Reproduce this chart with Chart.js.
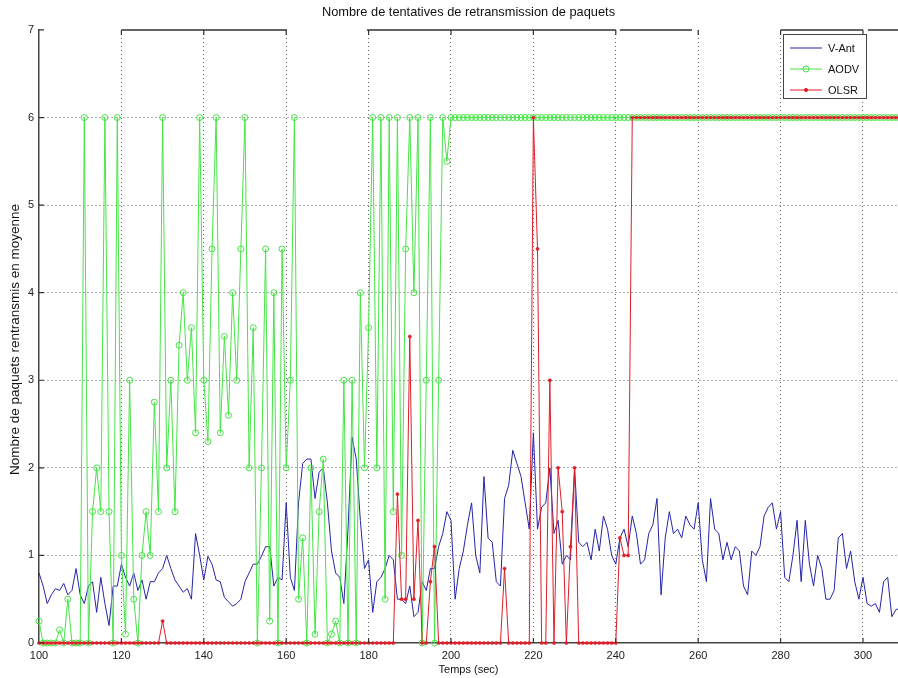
<!DOCTYPE html>
<html>
<head>
<meta charset="utf-8">
<style>
  html, body { margin: 0; padding: 0; background: #fff; }
  canvas { display: block; }
</style>
<script src="https://cdn.jsdelivr.net/npm/chart.js@4/dist/chart.umd.min.js"></script>
</head>
<body>
<canvas id="myChart" width="898" height="678" style="width:898px;height:678px"></canvas>
<script>
const titre = 'Nombre de tentatives de retransmission de paquets';
const titreX = 'Temps (sec)';
const titreY = 'Nombre de paquets rentransmis en moyenne';
const noms = ['V-Ant', 'AODV', 'OLSR'];

// temps de simulation (s)
const temps = [
  100,101,102,103,104,105,106,107,108,109,
  110,111,112,113,114,115,116,117,118,119,
  120,121,122,123,124,125,126,127,128,129,
  130,131,132,133,134,135,136,137,138,139,
  140,141,142,143,144,145,146,147,148,149,
  150,151,152,153,154,155,156,157,158,159,
  160,161,162,163,164,165,166,167,168,169,
  170,171,172,173,174,175,176,177,178,179,
  180,181,182,183,184,185,186,187,188,189,
  190,191,192,193,194,195,196,197,198,199,
  200,201,202,203,204,205,206,207,208,209,
  210,211,212,213,214,215,216,217,218,219,
  220,221,222,223,224,225,226,227,228,229,
  230,231,232,233,234,235,236,237,238,239,
  240,241,242,243,244,245,246,247,248,249,
  250,251,252,253,254,255,256,257,258,259,
  260,261,262,263,264,265,266,267,268,269,
  270,271,272,273,274,275,276,277,278,279,
  280,281,282,283,284,285,286,287,288,289,
  290,291,292,293,294,295,296,297,298,299,
  300,301,302,303,304,305,306,307,308,309
];

const vAnt = [
  0.8,0.65,0.45,0.55,0.62,0.6,0.68,0.55,0.6,0.85,
  0.55,0.45,0.65,0.7,0.35,0.75,0.45,0.2,0.65,0.65,
  0.9,0.75,0.65,0.8,0.6,0.72,0.5,0.7,0.7,0.8,
  0.85,1.0,0.85,0.72,0.65,0.58,0.62,0.5,1.25,1.0,
  0.72,0.99,0.9,0.72,0.7,0.52,0.47,0.42,0.45,0.5,
  0.7,0.8,0.9,0.9,0.99,1.1,1.1,0.65,0.75,0.72,
  1.6,0.75,0.6,1.6,2.05,2.1,2.1,1.65,1.95,2.0,
  1.6,1.05,0.8,0.75,0.45,1.3,2.35,2.1,1.4,0.85,
  0.95,0.35,0.7,0.75,0.85,1.0,0.95,0.5,0.5,0.45,
  0.65,0.3,0.35,0.7,0.6,0.85,0.85,1.1,1.25,1.5,
  1.4,0.5,0.85,1.05,1.35,1.6,1.0,0.8,1.9,1.2,
  1.15,0.7,0.65,1.65,1.8,2.2,2.05,1.9,1.6,1.3,
  2.4,1.3,1.55,1.6,2.0,1.25,1.4,0.9,1.0,0.95,
  2.0,1.15,1.1,1.15,0.95,1.3,1.05,1.45,1.3,1.0,
  0.9,1.2,1.3,1.1,1.45,1.25,0.9,0.95,1.25,1.35,
  1.65,0.55,1.2,1.5,1.25,1.3,1.2,1.45,1.35,1.3,
  1.6,0.95,0.7,1.65,1.3,1.25,0.95,1.15,0.95,1.1,
  1.05,0.65,0.55,1.05,1.0,1.1,1.45,1.55,1.6,1.3,
  1.5,0.75,0.7,1.0,1.4,0.7,1.4,0.9,0.65,1.0,
  0.85,0.5,0.5,0.6,1.2,1.25,0.85,1.05,0.7,0.5,
  0.75,0.45,0.42,0.45,0.35,0.7,0.75,0.3,0.38,0.4
];

const aodv = [
  0.25,0,0,0,0,0.15,0,0.5,0,0,
  0,6,0,1.5,2,1.5,6,1.5,0,6,
  1,0.1,3,0.5,0,1,1.5,1,2.75,1.5,
  6,2,3,1.5,3.4,4,3,3.6,2.4,6,
  3,2.3,4.5,6,2.4,3.5,2.6,4,3,4.5,
  6,2,3.6,0,2,4.5,0.25,4,0,4.5,
  2,3,6,0.5,1.2,0,2,0.1,1.5,2.1,
  0,0.1,0.25,0,3,0,3,0,4,2,
  3.6,6,2,6,0.5,6,1.5,6,1,4.5,
  6,4,6,0,3,6,0,3,6,5.5,
  6,6,6,6,6,6,6,6,6,6,
  6,6,6,6,6,6,6,6,6,6,
  6,6,6,6,6,6,6,6,6,6,
  6,6,6,6,6,6,6,6,6,6,
  6,6,6,6,6,6,6,6,6,6,
  6,6,6,6,6,6,6,6,6,6,
  6,6,6,6,6,6,6,6,6,6,
  6,6,6,6,6,6,6,6,6,6,
  6,6,6,6,6,6,6,6,6,6,
  6,6,6,6,6,6,6,6,6,6,
  6,6,6,6,6,6,6,6,6,6
];

const olsr = [
  0,0,0,0,0,0,0,0,0,0,
  0,0,0,0,0,0,0,0,0,0,
  0,0,0,0,0,0,0,0,0,0,
  0.25,0,0,0,0,0,0,0,0,0,
  0,0,0,0,0,0,0,0,0,0,
  0,0,0,0,0,0,0,0,0,0,
  0,0,0,0,0,0,0,0,0,0,
  0,0,0,0,0,0,0,0,0,0,
  0,0,0,0,0,0,0,1.7,0.5,0.5,
  3.5,0.5,1.4,0,0,0.7,1.1,0,0,0,
  0,0,0,0,0,0,0,0,0,0,
  0,0,0,0.85,0,0,0,0,0,0,
  6,4.5,0,0,3.0,0,2.0,1.5,0,1.1,
  2.0,0,0,0,0,0,0,0,0,0,
  0,1.2,1.0,1.0,6,6,6,6,6,6,
  6,6,6,6,6,6,6,6,6,6,
  6,6,6,6,6,6,6,6,6,6,
  6,6,6,6,6,6,6,6,6,6,
  6,6,6,6,6,6,6,6,6,6,
  6,6,6,6,6,6,6,6,6,6,
  6,6,6,6,6,6,6,6,6,6
];

const bleu = 'rgb(36,36,170)';
const vert = 'rgb(70,228,70)';
const rouge = 'rgb(222,30,40)';
const police = 'Liberation Sans, Arial, sans-serif';

const points = vals => temps.map((t, i) => ({ x: t, y: vals[i] }));

// cadre façon matlab : bord haut, graduations vers l'intérieur, légende encadrée
const cadre = {
  id: 'cadre',
  afterDatasetsDraw(chart) {
    const { ctx, chartArea: a, scales: { x, y } } = chart;
    ctx.save();
    ctx.strokeStyle = '#333';
    ctx.lineWidth = 1.5;
    ctx.beginPath();
    [[120, 160.2], [179.6, 240], [241, 258.5], [280, 300], [301.2, 308.5]].forEach(([d, f]) => {
      ctx.moveTo(x.getPixelForValue(d), a.top);
      ctx.lineTo(x.getPixelForValue(f), a.top);
    });
    ctx.stroke();
    ctx.lineWidth = 1.2;
    ctx.beginPath();
    x.ticks.forEach(t => {
      const px = x.getPixelForValue(t.value);
      if (t.value === 100) return;
      ctx.moveTo(px, a.bottom); ctx.lineTo(px, a.bottom - 5);
      ctx.moveTo(px, a.top); ctx.lineTo(px, a.top + 5);
    });
    y.ticks.forEach(t => {
      const py = y.getPixelForValue(t.value);
      ctx.moveTo(a.left, py); ctx.lineTo(a.left + 5, py);
    });
    ctx.stroke();
    ctx.restore();
  },
  afterDraw(chart) {
    const { ctx, chartArea: a } = chart;
    ctx.save();
    // titre de l'axe vertical
    ctx.fillStyle = '#111';
    ctx.font = '13.5px ' + police;
    ctx.textAlign = 'center';
    ctx.textBaseline = 'middle';
    ctx.translate(15, (a.top + a.bottom) / 2 + 3);
    ctx.rotate(-Math.PI / 2);
    ctx.fillText(titreY, 0, 0);
    ctx.restore();

    // légende
    const bx = 783, by = 34, bw = 83, bh = 64;
    ctx.save();
    ctx.fillStyle = '#fff';
    ctx.fillRect(bx, by, bw, bh);
    ctx.strokeStyle = '#444';
    ctx.lineWidth = 1;
    ctx.strokeRect(bx + 0.5, by + 0.5, bw, bh);
    ctx.font = '11px ' + police;
    ctx.textBaseline = 'middle';
    chart.data.datasets.forEach((ds, i) => {
      const ly = by + 14 + i * 21;
      ctx.strokeStyle = ds.borderColor;
      ctx.lineWidth = 1;
      ctx.beginPath();
      ctx.moveTo(bx + 7, ly); ctx.lineTo(bx + 39, ly);
      ctx.stroke();
      if (ds.pointRadius > 0) {
        ctx.beginPath();
        ctx.arc(bx + 23, ly, ds.pointRadius, 0, Math.PI * 2);
        ctx.fillStyle = ds.pointBackgroundColor;
        ctx.fill();
        ctx.strokeStyle = ds.pointBorderColor;
        ctx.stroke();
      }
      ctx.fillStyle = '#111';
      ctx.fillText(ds.label, bx + 45, ly + 1);
    });
    ctx.restore();
  }
};

const gris = 'rgba(70,70,70,0.85)';

new Chart(document.getElementById('myChart'), {
  type: 'line',
  data: {
    datasets: [
      { label: noms[0], data: points(vAnt), borderColor: bleu, borderWidth: 1,
        pointRadius: 0, order: 3 },
      { label: noms[1], data: points(aodv), borderColor: vert, borderWidth: 1,
        pointRadius: 3, pointStyle: 'circle', pointBorderColor: vert,
        pointBackgroundColor: 'rgba(0,0,0,0)', pointBorderWidth: 1, order: 2 },
      { label: noms[2], data: points(olsr), borderColor: rouge, borderWidth: 1,
        pointRadius: 1.6, pointBorderColor: rouge, pointBackgroundColor: rouge,
        pointBorderWidth: 0.5, order: 1 }
    ]
  },
  options: {
    responsive: false,
    animation: false,
    devicePixelRatio: 1,
    layout: { padding: 0, autoPadding: false },
    elements: { line: { tension: 0 } },
    datasets: { line: { clip: { left: 5, top: 5, right: 0, bottom: 5 } } },
    plugins: {
      legend: { display: false },
      tooltip: { enabled: false },
      title: {
        display: true, text: titre, color: '#111', fullSize: false,
        font: { family: police, size: 12.8, weight: 'normal' },
        padding: { top: 5, bottom: 9.6 }
      }
    },
    scales: {
      x: {
        type: 'linear', min: 100, max: 308.5,
        afterFit: s => { s.height = 35; s.paddingLeft = 0; s.paddingRight = 0; },
        ticks: { stepSize: 20, includeBounds: false, maxRotation: 0, padding: 6,
                 color: '#222', font: { family: police, size: 11 } },
        grid: { color: c => (c.tick && c.tick.value === 100) ? 'rgba(0,0,0,0)' : gris, drawTicks: false },
        border: { color: '#444', width: 1.5, dash: [1, 3] },
        title: { display: true, text: titreX, color: '#111', padding: { top: 0, bottom: 1 },
                 font: { family: police, size: 11 } }
      },
      y: {
        min: 0, max: 7,
        afterFit: s => { s.width = 39; },
        ticks: { stepSize: 1, padding: 5, color: '#222', font: { family: police, size: 11 } },
        grid: { color: c => (c.tick && (c.tick.value === 7 || c.tick.value === 0)) ? 'rgba(0,0,0,0)' : gris, drawTicks: false },
        border: { color: '#444', width: 1.5, dash: [1, 3] }
      }
    }
  },
  plugins: [cadre]
});
</script>
</body>
</html>
